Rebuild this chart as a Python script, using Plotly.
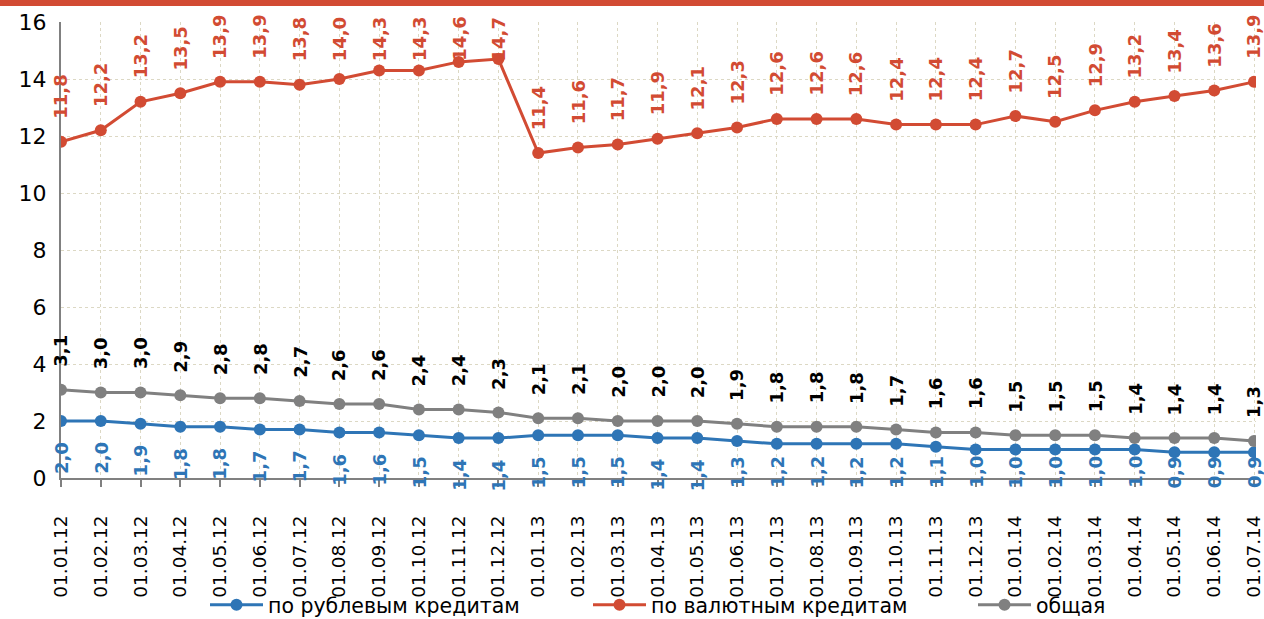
import plotly.graph_objects as go

dates = ["01.01.12", "01.02.12", "01.03.12", "01.04.12", "01.05.12", "01.06.12",
         "01.07.12", "01.08.12", "01.09.12", "01.10.12", "01.11.12", "01.12.12",
         "01.01.13", "01.02.13", "01.03.13", "01.04.13", "01.05.13", "01.06.13",
         "01.07.13", "01.08.13", "01.09.13", "01.10.13", "01.11.13", "01.12.13",
         "01.01.14", "01.02.14", "01.03.14", "01.04.14", "01.05.14", "01.06.14",
         "01.07.14"]

rub = [2.0, 2.0, 1.9, 1.8, 1.8, 1.7, 1.7, 1.6, 1.6, 1.5, 1.4, 1.4, 1.5, 1.5, 1.5, 1.4,
       1.4, 1.3, 1.2, 1.2, 1.2, 1.2, 1.1, 1.0, 1.0, 1.0, 1.0, 1.0, 0.9, 0.9, 0.9]
val = [11.8, 12.2, 13.2, 13.5, 13.9, 13.9, 13.8, 14.0, 14.3, 14.3, 14.6, 14.7, 11.4,
       11.6, 11.7, 11.9, 12.1, 12.3, 12.6, 12.6, 12.6, 12.4, 12.4, 12.4, 12.7, 12.5,
       12.9, 13.2, 13.4, 13.6, 13.9]
total = [3.1, 3.0, 3.0, 2.9, 2.8, 2.8, 2.7, 2.6, 2.6, 2.4, 2.4, 2.3, 2.1, 2.1, 2.0, 2.0,
         2.0, 1.9, 1.8, 1.8, 1.8, 1.7, 1.6, 1.6, 1.5, 1.5, 1.5, 1.4, 1.4, 1.4, 1.3]

names = ["по рублевым кредитам", "по валютным кредитам", "общая"]
y_ticks = [0, 2, 4, 6, 8, 10, 12, 14, 16]

RED = "#d24b33"
BLUE = "#2e75b6"
GRAY = "#808080"
GRID = "#dcd8c4"
FONT = "DejaVu Sans"

W, H = 1264, 619
ML, MR, MT, MB = 61, 8, 22, 141
PW, PH = W - ML - MR, H - MT - MB

fig = go.Figure()
for ys, nm, col, lg in [(rub, names[0], BLUE, "legend"),
                        (val, names[1], RED, "legend2"),
                        (total, names[2], GRAY, "legend3")]:
    fig.add_trace(go.Scatter(
        x=dates, y=ys, name=nm, mode="lines+markers",
        line=dict(color=col, width=3),
        marker=dict(color=col, size=12),
        legend=lg, hoverinfo="x+y"))


def fmt(v):
    return f"{v:.1f}".replace(".", ",")


LBL = 18
anns = []
for d, v in zip(dates, val):
    a = dict(x=d, xref="x", text=f"<b>{fmt(v)}</b>", textangle=-90, showarrow=False,
             font=dict(family=FONT, size=LBL, color=RED))
    if v > 13.95:
        a.update(yref="paper", y=1 + 7 / PH, yanchor="top")
    else:
        a.update(yref="y", y=v, yanchor="bottom", yshift=21)
    anns.append(a)

for d, v in zip(dates, total):
    anns.append(dict(x=d, xref="x", yref="y", y=v, yanchor="bottom", yshift=21,
                     text=f"<b>{fmt(v)}</b>", textangle=-90, showarrow=False,
                     font=dict(family=FONT, size=LBL, color="#000000")))

for d, v in zip(dates, rub):
    a = dict(x=d, xref="x", text=f"<b>{fmt(v)}</b>", textangle=-90, showarrow=False,
             font=dict(family=FONT, size=LBL, color=BLUE))
    if v < 1.35:
        a.update(yref="paper", y=-(12 / PH), yanchor="bottom")
    else:
        a.update(yref="y", y=v, yanchor="top", yshift=-19)
    anns.append(a)

shapes = [dict(type="rect", xref="paper", yref="paper",
               x0=-ML / PW, x1=1 + MR / PW, y0=1 + (MT - 6) / PH, y1=1 + MT / PH,
               fillcolor=RED, line=dict(width=0), layer="above")]


def legend_at(px):
    return dict(x=(px - ML) / PW, y=-(MB + 6) / PH, xanchor="left",
                yanchor="bottom", orientation="h", bgcolor="rgba(0,0,0,0)",
                itemwidth=53,
                font=dict(family=FONT, size=20.5, color="#000000"))


fig.update_layout(
    width=W, height=H,
    margin=dict(l=ML, r=MR, t=MT, b=MB, autoexpand=False),
    paper_bgcolor="white", plot_bgcolor="white",
    font=dict(family=FONT, color="#000000"),
    showlegend=True,
    legend=legend_at(205),
    legend2=legend_at(588),
    legend3=legend_at(973),
    annotations=anns,
    shapes=shapes,
    xaxis=dict(
        type="category", range=[0, 30.05], automargin=False,
        showgrid=True, gridcolor=GRID, griddash="dot", gridwidth=1,
        showline=True, linecolor=GRAY, linewidth=2,
        ticks="outside", ticklen=7, tickwidth=2, tickcolor=GRAY,
        tickangle=-90, tickfont=dict(family=FONT, size=18.5, color="#000000"),
        ticklabelstandoff=21,
    ),
    yaxis=dict(
        range=[0, 16], tickvals=y_ticks, automargin=False,
        showgrid=True, gridcolor=GRID, griddash="dot", gridwidth=1,
        zeroline=False,
        showline=True, linecolor=GRAY, linewidth=2,
        ticks="", tickfont=dict(family=FONT, size=22, color="#000000"),
        ticklabelstandoff=8,
    ),
)

fig.write_html("out.html",
               config={"displayModeBar": False},
               post_script="document.body.style.margin='0';"
                           "document.body.style.padding='0';"
                           "document.documentElement.style.overflow='hidden';")
